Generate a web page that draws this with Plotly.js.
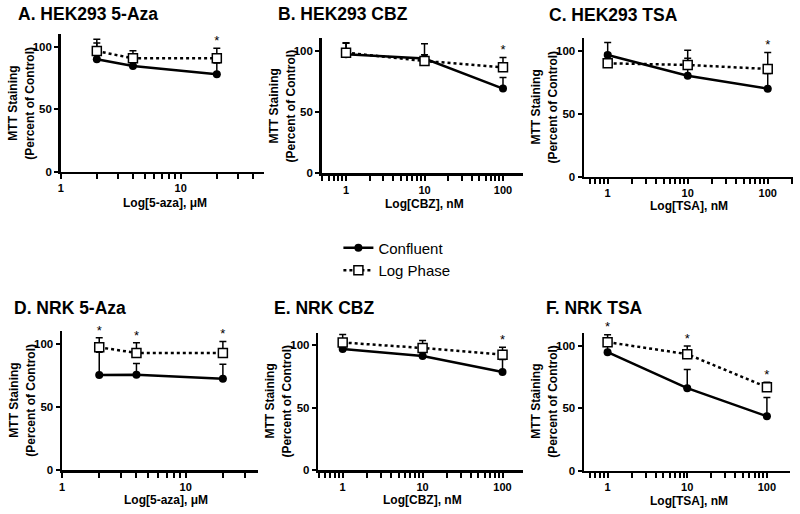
<!DOCTYPE html>
<html>
<head>
<meta charset="utf-8">
<script src="https://cdn.plot.ly/plotly-3.0.1.min.js"></script>
<style>
body{margin:0;background:#fff;}
#myPlot{width:800px;height:514px;}
</style>
</head>
<body>
<div id="myPlot"></div>
<script>
///doses used on the x axes
var dose_aza = [2, 4, 20];     ///uM
var dose_nm = [1, 10, 100];    ///nM

///tick positions of the log axes (labelled decades + unlabelled minor ticks)
var major_aza = [1, 10];
var major_nm = [1, 10, 100];
var minor_aza = [2, 3, 4, 5, 6, 7, 8, 9, 20, 30, 40];
var minor_nm = [0.5, 0.6, 0.7, 0.8, 0.9, 2, 3, 4, 5, 6, 7, 8, 9, 20, 30, 40, 50, 60, 70, 80, 90, 200];

///A. HEK293 5-Aza
var A_conf = [90, 84.5, 78];
var A_conf_err = [13, 3, 9];
var A_log = [96.5, 90.7, 90.7];
var A_log_err = [9.5, 6, 8];
var A_star = [0, 0, 1];

///B. HEK293 CBZ
var B_conf = [97, 93.5, 69];
var B_conf_err = [9, 12, 9];
var B_log = [98.3, 91.5, 86.4];
var B_log_err = [8, 5, 8];
var B_star = [0, 0, 1];

///C. HEK293 TSA
var C_conf = [96.8, 80.3, 70];
var C_conf_err = [10, 14, 12];
var C_log = [90.2, 88.9, 85.7];
var C_log_err = [8, 11.6, 13];
var C_star = [0, 0, 1];

///D. NRK 5-Aza
var D_conf = [75.4, 75.6, 72.5];
var D_conf_err = [18, 9, 11.5];
var D_log = [97.4, 92.9, 92.9];
var D_log_err = [7.5, 8, 9];
var D_star = [1, 1, 1];

///E. NRK CBZ
var E_conf = [96.8, 91.2, 78.4];
var E_conf_err = [4, 3, 10];
var E_log = [102, 97.6, 92.3];
var E_log_err = [6.5, 6, 6];
var E_star = [0, 0, 1];

///F. NRK TSA
var F_conf = [94.7, 65.9, 43.5];
var F_conf_err = [5, 15, 15];
var F_log = [102.7, 93.1, 66.7];
var F_log_err = [6, 6.5, 4];
var F_star = [1, 1, 1];

var series_names = ['Confluent', 'Log Phase'];
var y_ticks = [0, 50, 100];
var y_title = ['MTT Staining', '(Percent of Control)'];

///panel settings (pixel boxes measured on the 800x514 picture : left, right, bottom, top)
var panels = [
 {title:'A. HEK293 5-Aza', xt:'Log[5-aza], \u03bcM', dose:dose_aza, major:major_aza, minor:minor_aza, conf:A_conf, ce:A_conf_err, log:A_log, le:A_log_err, star:A_star,
  box:[60.7, 263.5, 171.7, 34.2], xr:[0, 1.69], tpos:[16, 14], xtpos:[165, 203]},
 {title:'B. HEK293 CBZ', xt:'Log[CBZ], nM', dose:dose_nm, major:major_nm, minor:minor_nm, conf:B_conf, ce:B_conf_err, log:B_log, le:B_log_err, star:B_star,
  box:[321.7, 523, 173.3, 38.3], xr:[-0.31, 2.255], tpos:[276, 14], xtpos:[424, 204]},
 {title:'C. HEK293 TSA', xt:'Log[TSA], nM', dose:dose_nm, major:major_nm, minor:minor_nm, conf:C_conf, ce:C_conf_err, log:C_log, le:C_log_err, star:C_star,
  box:[584, 793, 176.7, 38.4], xr:[-0.296, 2.316], tpos:[547, 15], xtpos:[689, 206]},
 {title:'D. NRK 5-Aza', xt:'Log[5-aza], \u03bcM', dose:dose_aza, major:major_aza, minor:minor_aza, conf:D_conf, ce:D_conf_err, log:D_log, le:D_log_err, star:D_star,
  box:[62, 258, 470, 331.4], xr:[0, 1.585], tpos:[12, 308], xtpos:[166, 500]},
 {title:'E. NRK CBZ', xt:'Log[CBZ], nM', dose:dose_nm, major:major_nm, minor:minor_nm, conf:E_conf, ce:E_conf_err, log:E_log, le:E_log_err, star:E_star,
  box:[318.3, 523.3, 470, 332.5], xr:[-0.305, 2.26], tpos:[272, 308], xtpos:[422, 500]},
 {title:'F. NRK TSA', xt:'Log[TSA], nM', dose:dose_nm, major:major_nm, minor:minor_nm, conf:F_conf, ce:F_conf_err, log:F_log, le:F_log_err, star:F_star,
  box:[584, 790, 470.7, 333], xr:[-0.296, 2.29], tpos:[544, 308], xtpos:[689, 501]}
];

var W = 800, H = 514;
var FONT = 'Liberation Sans, Arial, sans-serif';

var data = [];
var layout = {
  width: W, height: H,
  margin: {l:0, r:0, t:0, b:0},
  paper_bgcolor: 'white', plot_bgcolor: 'white',
  font: {family: FONT, color: 'black'},
  showlegend: true,
  legend: {x: 0.423, y: 1 - 259/H, xanchor: 'left', yanchor: 'middle',
           font: {family: FONT, size: 15, color: 'black'}, itemwidth: 30,
           tracegroupgap: 0, bgcolor: 'rgba(0,0,0,0)'},
  annotations: []
};

function zeros(arr){
  return arr.map(function(){ return 0; });
}

function label(arr, on){
  return arr.map(function(v){ return on ? String(v) : ''; });
}

for (var i = 0; i < panels.length; i++) {
  var p = panels[i];
  var n = (i == 0) ? '' : (i + 1);
  var xa = 'x' + n, ya = 'y' + n;

  ///confluent : solid line, filled circles
  data.push({
    x: p.dose, y: p.conf, xaxis: xa, yaxis: ya,
    type: 'scatter', mode: 'lines+markers', name: series_names[0],
    legendgroup: 'conf', showlegend: i == 0, cliponaxis: false,
    line: {color: 'black', width: 2.5},
    marker: {symbol: 'circle', size: 8, color: 'black'},
    error_y: {type: 'data', symmetric: false, array: p.ce, arrayminus: zeros(p.ce),
              color: 'black', thickness: 1.5, width: 3.5}
  });

  ///log phase : dotted line, open squares
  data.push({
    x: p.dose, y: p.log, xaxis: xa, yaxis: ya,
    type: 'scatter', mode: 'lines+markers', name: series_names[1],
    legendgroup: 'log', showlegend: i == 0, cliponaxis: false,
    line: {color: 'black', width: 2.5, dash: '3px,3px'},
    marker: {symbol: 'square', size: 9, color: 'white', line: {color: 'black', width: 1.5}},
    error_y: {type: 'data', symmetric: false, array: p.le, arrayminus: zeros(p.le),
              color: 'black', thickness: 1.5, width: 3.5}
  });

  ///asterisks above the log phase error bars
  var sx = [], sy = [];
  for (var k = 0; k < p.dose.length; k++) {
    if (p.star[k]) { sx.push(p.dose[k]); sy.push(p.log[k] + p.le[k]); }
  }
  data.push({
    x: sx, y: sy, xaxis: xa, yaxis: ya,
    type: 'scatter', mode: 'text', text: sx.map(function(){ return '*'; }),
    textposition: 'top center', textfont: {family: FONT, size: 13, color: '#000000'},
    marker: {color: '#000000'},
    showlegend: false, cliponaxis: false, hoverinfo: 'skip'
  });

  var b = p.box;
  layout['xaxis' + n] = {
    type: 'log', range: p.xr, anchor: ya,
    domain: [b[0] / W, b[1] / W],
    showline: true, linecolor: 'black', linewidth: 2.5,
    showgrid: false, zeroline: false,
    ticks: 'outside', ticklen: 5, tickwidth: 2, tickcolor: '#000000',
    tickmode: 'array',
    tickvals: p.major.concat(p.minor),
    ticktext: label(p.major, true).concat(label(p.minor, false)),
    tickfont: {family: FONT, size: 11, weight: 'bold'}
  };
  layout['yaxis' + n] = {
    range: [0, 110], anchor: xa,
    domain: [1 - b[2] / H, 1 - b[3] / H],
    showline: true, linecolor: 'black', linewidth: 2.5,
    showgrid: false, zeroline: false,
    ticks: 'outside', ticklen: 4, tickwidth: 2, tickcolor: '#000000',
    tickvals: y_ticks,
    tickfont: {family: FONT, size: 11.5, weight: 'bold'}
  };

  ///x title
  layout.annotations.push({
    text: p.xt, xref: 'paper', yref: 'paper',
    x: p.xtpos[0] / W, y: 1 - p.xtpos[1] / H, xanchor: 'center', yanchor: 'middle',
    showarrow: false, font: {family: FONT, size: 12, weight: 'bold', color: 'black'}
  });

  ///two line y title, as in the original the lines sit well apart
  var ymid = 1 - (b[2] + b[3]) / 2 / H;
  layout.annotations.push({
    text: y_title[0], xref: 'paper', yref: 'paper', textangle: -90,
    x: (b[0] - 48) / W, y: ymid, xanchor: 'center', yanchor: 'middle',
    showarrow: false, font: {family: FONT, size: 12, weight: 'bold', color: 'black'}
  });
  layout.annotations.push({
    text: y_title[1], xref: 'paper', yref: 'paper', textangle: -90,
    x: (b[0] - 31) / W, y: ymid, xanchor: 'center', yanchor: 'middle',
    showarrow: false, font: {family: FONT, size: 12, weight: 'bold', color: 'black'}
  });

  ///panel title
  layout.annotations.push({
    text: p.title, xref: 'paper', yref: 'paper',
    x: p.tpos[0] / W, y: 1 - p.tpos[1] / H, xanchor: 'left', yanchor: 'middle',
    showarrow: false, font: {family: FONT, size: 17.5, weight: 'bold', color: 'black'}
  });
}

Plotly.newPlot('myPlot', data, layout, {displayModeBar: false, staticPlot: true});
</script>
</body>
</html>
